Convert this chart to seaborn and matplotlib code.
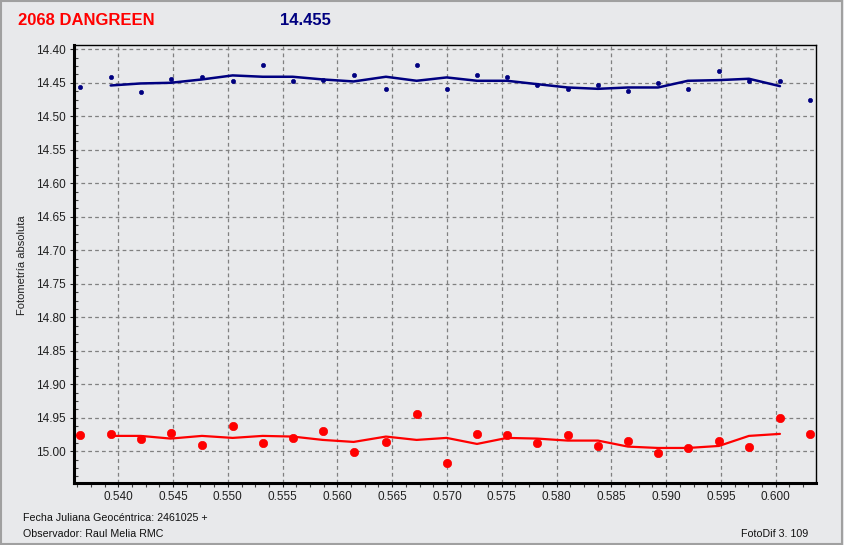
import numpy as np
import pandas as pd
import matplotlib
matplotlib.use("Agg")
import matplotlib.pyplot as plt
from matplotlib.ticker import MultipleLocator, FormatStrFormatter
from matplotlib.patches import Rectangle
import seaborn as sns

# --- Data ---
JD = [0.53650, 0.53931, 0.54204, 0.54478, 0.54764, 0.55044, 0.55318, 0.55592,
      0.55866, 0.56148, 0.56443, 0.56723, 0.56997, 0.57274, 0.57548, 0.57821,
      0.58102, 0.58378, 0.58652, 0.58926, 0.59199, 0.59482, 0.59756, 0.60039,
      0.60313]
TARGET_MAG = [14.457, 14.442, 14.463, 14.445, 14.442, 14.448, 14.424, 14.448,
              14.446, 14.438, 14.459, 14.423, 14.459, 14.439, 14.442, 14.453,
              14.460, 14.453, 14.462, 14.450, 14.459, 14.432, 14.447, 14.447,
              14.475]
CHECK_MAG = [14.975, 14.974, 14.981, 14.972, 14.990, 14.962, 14.987, 14.980,
             14.969, 15.001, 14.986, 14.945, 15.017, 14.974, 14.975, 14.987,
             14.975, 14.992, 14.984, 15.002, 14.995, 14.984, 14.993, 14.950,
             14.974]
# smoothed curves, drawn from the 2nd to the 24th point
TARGET_SMOOTH = [14.454, 14.451, 14.450, 14.445, 14.439, 14.441, 14.441, 14.445,
                 14.448, 14.441, 14.447, 14.442, 14.447, 14.447, 14.452, 14.457,
                 14.459, 14.457, 14.457, 14.447, 14.446, 14.444, 14.455]
CHECK_SMOOTH = [14.977, 14.977, 14.981, 14.977, 14.980, 14.977, 14.978, 14.983,
                14.986, 14.978, 14.983, 14.980, 14.989, 14.980, 14.981, 14.984,
                14.984, 14.993, 14.995, 14.995, 14.992, 14.977, 14.974]

STAR_NAME = "2068 DANGREEN"
MEAN_MAG = "14.455"
JD_BASE = "Fecha Juliana Geocéntrica: 2461025 +"
OBSERVER = "Observador: Raul Melia RMC"
SOFTWARE = "FotoDif 3. 109"

BG = "#e8e9eb"
NAVY = "#000080"
RED = "#ff0000"

pts = pd.DataFrame({"jd": JD, "target": TARGET_MAG, "check": CHECK_MAG})
curve = pd.DataFrame({"jd": JD[1:24], "target": TARGET_SMOOTH, "check": CHECK_SMOOTH})

sns.set_theme(style="ticks")
plt.rcParams["font.family"] = ["Liberation Sans", "DejaVu Sans"]

fig = plt.figure(figsize=(8.44, 5.45), dpi=100, facecolor=BG)
ax = fig.add_axes([74 / 844, 1 - 483 / 545, 742 / 844, 438 / 545])
ax.set_facecolor(BG)

sns.lineplot(data=curve, x="jd", y="target", color=NAVY, lw=1.8, ax=ax)
sns.lineplot(data=curve, x="jd", y="check", color=RED, lw=1.6, ax=ax)
sns.scatterplot(data=pts, x="jd", y="target", color=NAVY, s=9, marker="o",
                edgecolor=NAVY, linewidth=0.5, ax=ax, zorder=5)
sns.scatterplot(data=pts, x="jd", y="check", color=RED, s=36, marker="o",
                edgecolor=RED, linewidth=0.5, ax=ax, zorder=5)

ax.set_xlim(0.53596, 0.60368)
ax.set_ylim(15.0473, 14.3936)
ax.xaxis.set_major_locator(MultipleLocator(0.005))
ax.xaxis.set_minor_locator(MultipleLocator(0.00125))
ax.yaxis.set_major_locator(MultipleLocator(0.05))
ax.yaxis.set_minor_locator(MultipleLocator(0.0125))
ax.xaxis.set_major_formatter(FormatStrFormatter("%.3f"))
ax.yaxis.set_major_formatter(FormatStrFormatter("%.2f"))

ax.grid(True, which="major", color="#808080", linestyle=(0, (3, 2.5)), lw=0.9)
ax.tick_params(axis="both", which="major", labelsize=8.5, colors="#202020",
               length=3, width=0.8, pad=3)
ax.tick_params(axis="x", which="minor", length=3, width=0.8, color="#404040", direction="out")
ax.tick_params(axis="y", which="minor", length=3, width=0.8, color="#404040", direction="in")

for side in ["top", "right"]:
    ax.spines[side].set_linewidth(1.0)
    ax.spines[side].set_color("black")
for side in ["left", "bottom"]:
    ax.spines[side].set_linewidth(2.2)
    ax.spines[side].set_color("black")

ax.set_xlabel("")
ax.set_ylabel("")

fig.text(22 / 844, 1 - 265 / 545, "Fotometría absoluta", rotation=90,
         ha="center", va="center", fontsize=8, color="#202020")
fig.text(18 / 844, 1 - 25 / 545, STAR_NAME, fontsize=12, fontweight="bold",
         color=RED, va="baseline")
fig.text(280 / 844, 1 - 25 / 545, MEAN_MAG, fontsize=12, fontweight="bold",
         color=NAVY, va="baseline")
fig.text(23 / 844, 1 - 521 / 545, JD_BASE, fontsize=7.7, color="#101010", va="baseline")
fig.text(23 / 844, 1 - 537 / 545, OBSERVER, fontsize=7.7, color="#101010", va="baseline")
fig.text(808 / 844, 1 - 537 / 545, SOFTWARE, fontsize=7.7, color="#101010",
         va="baseline", ha="right")

fig.patches.append(Rectangle((0.001, 0.002), 0.997, 0.996, transform=fig.transFigure,
                             fill=False, edgecolor="#a0a0a0", lw=1.5))

fig.savefig("out.png", dpi=100, facecolor=BG)
